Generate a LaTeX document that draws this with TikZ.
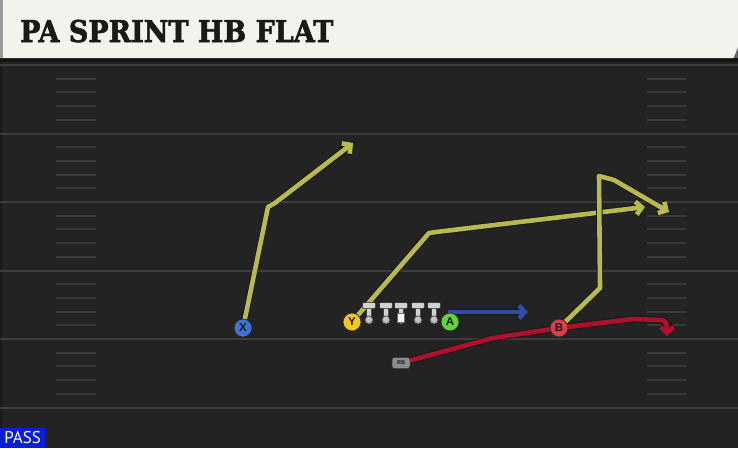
\documentclass[tikz,border=0pt]{standalone}
\usepackage{fontspec}
\newfontfamily\titlefont{DejaVu Serif Bold}[FakeBold=2]
\newfontfamily\labelfont{Liberation Sans}
\newfontfamily\passfont{PT Sans}
\usetikzlibrary{arrows.meta}
\definecolor{titlebg}{HTML}{F4F2EC}
\definecolor{fieldbg}{HTML}{232323}
\definecolor{yardln}{HTML}{3C3C3C}
\definecolor{hashln}{HTML}{383838}
\definecolor{rtyellow}{HTML}{B8BA4E}
\definecolor{rtblue}{HTML}{2E4FA3}
\definecolor{rtred}{HTML}{B0102E}
\definecolor{plX}{HTML}{3D72D9}
\definecolor{plY}{HTML}{F2C81F}
\definecolor{plA}{HTML}{62D33A}
\definecolor{plB}{HTML}{E03A4C}
\definecolor{passblue}{HTML}{0C1ED8}
\pgfdeclarelayer{background}
\pgfdeclarelayer{routes}
\pgfsetlayers{background,routes,main}
\tikzset{
  route/.style={draw=#1, line width=4.6pt, line join=round, line cap=round,
    preaction={draw=black!90, line width=6.6pt, line join=round},
    -{Straight Barb[length=6pt,width=13pt]}},
  player/.style={circle, draw=black!85, line width=0.7pt, fill=#1, minimum size=18pt,
    inner sep=0pt, font=\labelfont\bfseries\fontsize{11.5}{11.5}\selectfont, text=black!90},
  tbar/.style={fill=black!18, draw=black!85, line width=0.5pt, rounded corners=1pt},
}
\begin{document}
\begin{tikzpicture}[x=1pt,y=-1pt]
\useasboundingbox (0,0) rectangle (738,448);
\begin{pgfonlayer}{background}
  % field
  \fill[fieldbg] (0,0) rectangle (738,448);
  \fill[black!30!fieldbg] (0,60) rectangle (2,448);
  % yard lines
  \foreach \k in {0,5,10,15,20,25}
    \draw[yardln, line width=2pt] (0,65+13.7*\k) -- (738,65+13.7*\k);
  % hash marks
  \foreach \k in {1,...,24}{
    \pgfmathtruncatemacro{\m}{mod(\k,5)}
    \ifnum\m=0\else
      \draw[hashln, line width=2pt] (56,65+13.7*\k) -- (96,65+13.7*\k);
      \draw[hashln, line width=2pt] (647,65+13.7*\k) -- (686,65+13.7*\k);
    \fi}
  % title bar
  \fill[black!92] (0,57) rectangle (738,62);
  \fill[black!60] (728,44) rectangle (738,58);
  \fill[titlebg] (0,0) -- (738,0) -- (738,47) -- (733.5,58) -- (0,58) -- cycle;
  \fill[black!40] (0,0) rectangle (3,58);
\end{pgfonlayer}

\node[anchor=base west, inner sep=0pt, text=black!90] (title) at (20,42)
  {\scalebox{0.9}[1]{\titlefont\fontsize{30}{30}\selectfont PA SPRINT HB FLAT}};

% pass badge
\node[anchor=south west, fill=passblue, minimum width=45pt, minimum height=20pt,
  inner sep=0pt, text=white, font=\passfont\fontsize{17}{17}\selectfont] (pass) at (0,448) {\raisebox{-0.5pt}{PASS}};

% linemen
\foreach \x/\n in {369/T1,386/T2,401/T3,418/T4,434/T5}{
  \draw[tbar] (\x-2.5,306) rectangle (\x+2.5,318);
  \fill[black!35, draw=black!85, line width=0.5pt] (\x,320) circle (4.2pt);
  \fill[black!22] (\x,319.3) circle (2.6pt);
  \draw[tbar] (\x-6.5,302.5) rectangle (\x+6.5,308.5);
  \coordinate (\n) at (\x,312);
}
\fill[white, draw=black!60, line width=0.4pt] (397.5,313) rectangle (404.5,322.5);

% players
\node[player=plX] (X) at (243,328) {X};
\node[player=plY] (Y) at (352,322) {Y};
\node[player=plA] (A) at (450,322) {A};
\node[player=plB] (B) at (559,328) {B};
\node[fill=black!45, draw=black!80, line width=0.5pt, rounded corners=2.5pt,
  minimum width=18pt, minimum height=11pt, inner sep=0pt, text=black!90,
  font=\labelfont\bfseries\fontsize{5.5}{5.5}\selectfont] (RB) at (401,363) {RB};

% route coordinates
\coordinate (x1) at (268,207);
\coordinate (x2) at (275,203);
\coordinate (xe) at (353,143);
\coordinate (y1) at (429,233);
\coordinate (y2) at (436,232);
\coordinate (ye) at (645,207);
\coordinate (b1) at (600,288);
\coordinate (b2) at (599,176);
\coordinate (b3) at (614,180);
\coordinate (be) at (669,212);
\coordinate (ae) at (528,312);
\coordinate (r1) at (493,338);
\coordinate (r2) at (559,328);
\coordinate (r3) at (633,319);
\coordinate (r4) at (661,320);
\coordinate (re) at (667,336);

\begin{pgfonlayer}{routes}
  \draw[route=rtyellow] (X.center) -- (x1) -- (x2) -- (xe);
  \draw[route=rtyellow] (Y.center) -- (y1) -- (y2) -- (ye);
  \draw[route=rtyellow] (B.center) -- (b1) -- (b2) -- (b3) -- (be);
  \draw[route=rtblue] ([yshift=10pt]A.center) -- (ae);
  \draw[route=rtred] (RB.center) -- (r1) -- (r2) -- (r3) -- (r4) to[out=0,in=90] (re);
\end{pgfonlayer}
\end{tikzpicture}
\end{document}
